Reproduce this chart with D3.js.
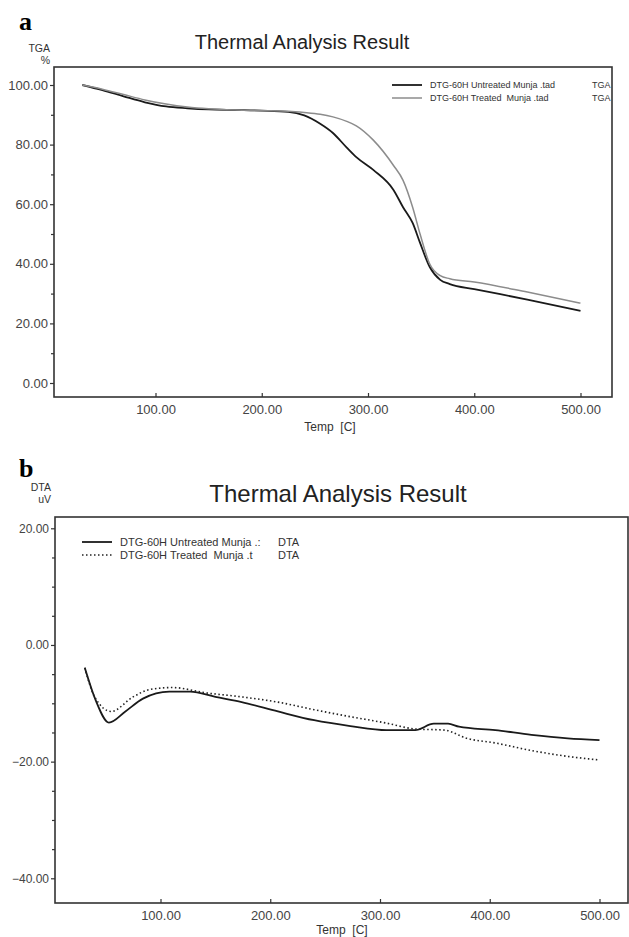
<!DOCTYPE html>
<html lang="en">
<head>
<meta charset="UTF-8" />
<title>Thermal Analysis Result</title>
<style>
  body { margin: 0; background: #fff; }
  svg { display: block; font-family: "Liberation Sans", Arial, sans-serif; }
</style>
</head>
<body>
<div class="chart"></div>
<script src="https://cdn.jsdelivr.net/npm/d3@7/dist/d3.min.js"></script>
<script>
// panel a : TGA (%)
const tgaTemp = [31, 50, 70, 90, 110, 130, 150, 175, 200, 225, 240, 255, 267, 280, 289, 305, 324, 333, 342, 349, 358, 368, 377, 400, 450, 500]
const tgaUntreated = [100, 98.3, 96.2, 94.2, 92.8, 92.2, 91.8, 91.6, 91.4, 91, 89.8, 87, 83.9, 79, 75.8, 71.5, 64.8, 59, 53.7, 47, 39, 34.6, 33.2, 31.5, 28, 24.2]
const tgaTreated = [100, 98.6, 96.8, 95, 93.6, 92.6, 92, 91.6, 91.4, 91.2, 90.8, 90.2, 89.3, 87.8, 86.3, 81.5, 73, 68, 59, 50, 40, 36, 35, 33.9, 30.5, 26.8]
const tgaYTicks = [0, 20, 40, 60, 80, 100]
const tgaLegend = ['DTG-60H Untreated Munja .tad', 'DTG-60H Treated  Munja .tad']

// panel b : DTA (uV)
const dtaTempUntreated = [31, 41, 53, 68, 84, 108, 127, 150, 174, 207, 240, 273, 306, 332, 349, 362, 372, 405, 438, 471, 500]
const dtaUntreated = [-3.9, -9.5, -13.3, -11.4, -9.2, -8.0, -8.0, -8.9, -9.8, -11.4, -12.9, -13.9, -14.6, -14.6, -13.5, -13.5, -14.0, -14.6, -15.4, -16.0, -16.3]
const dtaTempTreated = [31, 40, 55, 75, 91, 111, 141, 174, 207, 240, 273, 306, 332, 359, 379, 405, 438, 471, 499]
const dtaTreated = [-3.9, -8.9, -11.4, -8.9, -7.6, -7.3, -8.2, -8.9, -9.8, -11.1, -12.3, -13.4, -14.4, -14.6, -16.0, -16.8, -18.1, -19.1, -19.7]
const dtaYTicks = [-40, -20, 0, 20]
const dtaLegend = ['DTG-60H Untreated Munja .:', 'DTG-60H Treated  Munja .t']

const xTicks = [100, 200, 300, 400, 500]

const W = 629, H = 937
const svg = d3.select('.chart').append('svg')
  .attr('width', W)
  .attr('height', H)

const fmt = d3.format('.2f')

const drawPanel = (p) => {
  const g = svg.append('g')

  const x = d3.scaleLinear().domain([100, 500]).range(p.xRange)
  const y = d3.scaleLinear().domain(p.yDomain).range(p.yRange)

  // panel letter
  g.append('text')
    .attr('x', 19).attr('y', p.letterY)
    .style('font-family', '"Liberation Serif", "DejaVu Serif", serif')
    .style('font-weight', 'bold')
    .style('font-size', '26px')
    .text(p.letter)

  // title
  g.append('text')
    .attr('x', p.titleX).attr('y', p.titleY)
    .attr('text-anchor', 'middle')
    .style('font-size', p.titleSize + 'px')
    .style('fill', '#222')
    .text('Thermal Analysis Result')

  // y unit
  g.append('text')
    .attr('x', p.box[0] - 4).attr('y', p.unitY)
    .attr('text-anchor', 'end')
    .style('font-size', '10.5px')
    .style('fill', '#333')
    .text(p.yName)
  g.append('text')
    .attr('x', p.box[0] - 4).attr('y', p.unitY + 12)
    .attr('text-anchor', 'end')
    .style('font-size', '10.5px')
    .style('fill', '#333')
    .text(p.yUnit)

  // frame
  g.append('rect')
    .attr('x', p.box[0]).attr('y', p.box[1])
    .attr('width', p.box[2] - p.box[0])
    .attr('height', p.box[3] - p.box[1])
    .attr('fill', 'none')
    .attr('stroke', '#333')
    .attr('stroke-width', 1.6)

  // y axis
  const yAxis = d3.axisLeft(y)
    .tickValues(p.yTicks)
    .tickFormat(fmt)
    .tickSize(4)
    .tickPadding(2)
  const yg = g.append('g')
    .attr('transform', `translate(${p.box[0]},0)`)
    .call(yAxis)
  yg.select('.domain').remove()
  yg.selectAll('line').attr('stroke', '#333').attr('stroke-width', 1.2)
  yg.selectAll('text')
    .style('font-family', '"Liberation Sans", Arial, sans-serif')
    .style('font-size', p.yLabelSize + 'px')
    .style('fill', '#444')

  // minor y ticks
  const minorY = d3.range(p.yDomain[0], p.yDomain[1] + 0.01, p.minorStep)
    .filter(v => !p.yTicks.includes(v))
  const myAxis = d3.axisLeft(y).tickValues(minorY).tickFormat('').tickSize(3)
  const myg = g.append('g')
    .attr('transform', `translate(${p.box[0]},0)`)
    .call(myAxis)
  myg.select('.domain').remove()
  myg.selectAll('line').attr('stroke', '#333').attr('stroke-width', 1.2)

  // x axis, ticks point inward
  const xAxis = d3.axisBottom(x)
    .tickValues(xTicks)
    .tickFormat(fmt)
    .tickSizeInner(-4)
    .tickSizeOuter(0)
    .tickPadding(8)
  const xg = g.append('g')
    .attr('transform', `translate(0,${p.box[3]})`)
    .call(xAxis)
  xg.select('.domain').remove()
  xg.selectAll('line').attr('stroke', '#333').attr('stroke-width', 1.2)
  xg.selectAll('text')
    .style('font-family', '"Liberation Sans", Arial, sans-serif')
    .style('font-size', '13px')
    .style('fill', '#444')

  g.append('text')
    .attr('x', p.xLabelX).attr('y', p.xLabelY)
    .attr('text-anchor', 'middle')
    .style('font-size', '12px')
    .style('fill', '#333')
    .style('white-space', 'pre')
    .attr('xml:space', 'preserve')
    .text('Temp  [C]')

  // curves
  const line = d3.line()
    .x(d => x(d[0]))
    .y(d => y(d[1]))
    .curve(d3.curveMonotoneX)

  p.series.forEach(s => {
    g.append('path')
      .datum(d3.zip(s.t, s.v))
      .attr('d', line)
      .attr('fill', 'none')
      .attr('stroke', s.color)
      .attr('stroke-width', s.width)
      .attr('stroke-dasharray', s.dash || null)
  })

  // legend
  const lg = g.append('g')
    .selectAll('g')
    .data(p.series)
    .join('g')
    .attr('transform', (d, i) => `translate(0,${p.legend.y + i * p.legend.dy})`)

  lg.append('line')
    .attr('x1', p.legend.x1).attr('x2', p.legend.x2)
    .attr('stroke', d => d.color)
    .attr('stroke-width', d => d.width)
    .attr('stroke-dasharray', d => d.dash || null)

  lg.append('text')
    .attr('x', p.legend.tx).attr('y', 0)
    .attr('dy', '0.35em')
    .attr('xml:space', 'preserve')
    .style('font-size', p.legend.size + 'px')
    .style('fill', '#333')
    .text((d, i) => p.legendNames[i])

  lg.append('text')
    .attr('x', p.legend.kx).attr('y', 0)
    .attr('dy', '0.35em')
    .style('font-size', p.legend.size + 'px')
    .style('fill', '#333')
    .text(p.yName)
}

drawPanel({
  letter: 'a', letterY: 30,
  titleX: 302, titleY: 49, titleSize: 20,
  yName: 'TGA', yUnit: '%', unitY: 52,
  box: [54, 67, 612, 397],
  xRange: [155.5, 580.5],
  yDomain: [0, 100], yRange: [383, 85],
  yTicks: tgaYTicks, minorStep: 10, yLabelSize: 13,
  xLabelX: 330, xLabelY: 431,
  series: [
    { t: tgaTemp, v: tgaUntreated, color: '#1a1a1a', width: 1.8 },
    { t: tgaTemp, v: tgaTreated, color: '#8c8c8c', width: 1.5 }
  ],
  legendNames: tgaLegend,
  legend: { x1: 392, x2: 422, tx: 430, kx: 592, y: 85, dy: 13, size: 9 }
})

drawPanel({
  letter: 'b', letterY: 477,
  titleX: 338, titleY: 502, titleSize: 24,
  yName: 'DTA', yUnit: 'uV', unitY: 491,
  box: [55, 517, 628, 903],
  xRange: [160.5, 599.5],
  yDomain: [-40, 20], yRange: [878.3, 528.3],
  yTicks: dtaYTicks, minorStep: 5, yLabelSize: 12,
  xLabelX: 342, xLabelY: 934,
  series: [
    { t: dtaTempUntreated, v: dtaUntreated, color: '#1a1a1a', width: 1.8 },
    { t: dtaTempTreated, v: dtaTreated, color: '#222', width: 1.6, dash: '1.5,2.5' }
  ],
  legendNames: dtaLegend,
  legend: { x1: 82, x2: 112, tx: 120, kx: 278, y: 542, dy: 13, size: 11 }
})
</script>
</body>
</html>
